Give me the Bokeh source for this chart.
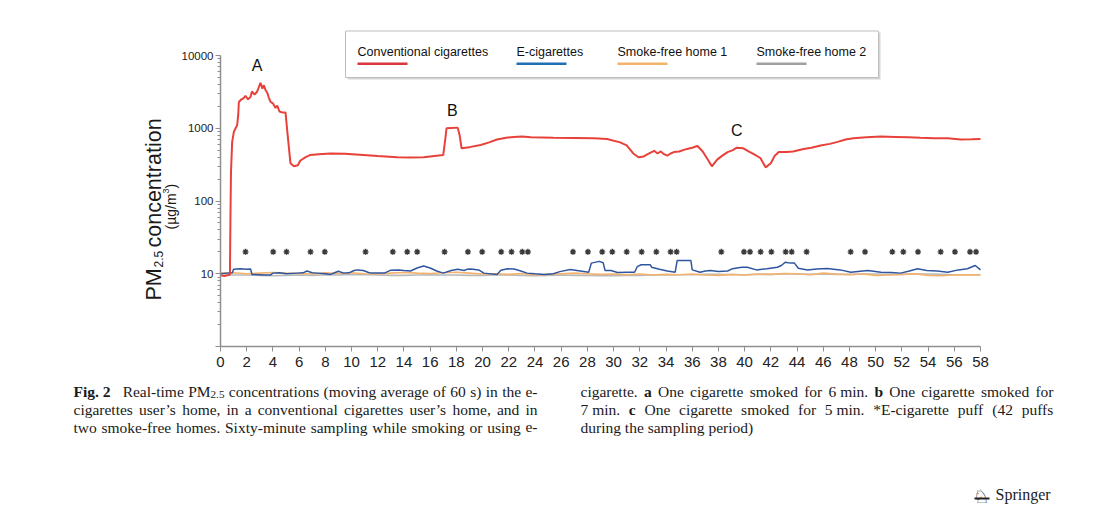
import math
from bokeh.plotting import figure
from bokeh.models import Range1d, FixedTicker, Label, BoxAnnotation
from bokeh.embed import file_html
from bokeh.resources import INLINE

# ---------------- data ----------------
conv = [(0, 9.5), (0.3, 9.3), (0.6, 9.6), (0.72, 9.8), (0.76, 60), (0.8, 250), (0.89, 650),
        (1.02, 890), (1.15, 1000), (1.27, 1100), (1.35, 1500), (1.4, 2300), (1.6, 2500),
        (1.78, 2600), (1.9, 2800), (2.1, 2500), (2.29, 2700), (2.4, 3200), (2.6, 2900),
        (2.8, 3200), (3.05, 4200), (3.2, 3500), (3.31, 3900), (3.45, 3300), (3.56, 3100),
        (3.7, 2600), (3.82, 2300), (4.0, 2200), (4.2, 1900), (4.33, 2050), (4.5, 1700),
        (4.7, 1650), (4.96, 1650), (5.1, 900), (5.34, 330), (5.6, 300), (5.9, 310),
        (6.1, 360), (6.5, 400), (6.87, 430), (7.5, 440), (8.4, 450), (9.5, 445), (10.9, 430),
        (12.0, 415), (13.5, 400), (14.5, 395), (15.5, 400), (16.0, 410), (17.0, 430),
        (17.15, 700), (17.25, 1000), (17.6, 1010), (18.1, 1020), (18.25, 800), (18.4, 530),
        (19.0, 550), (19.85, 590), (20.5, 640), (21.1, 700), (21.8, 740), (22.4, 760),
        (23.0, 770), (23.7, 755), (25.4, 740), (27.0, 735), (28.5, 730), (29.5, 710),
        (30.5, 640), (31.0, 580), (31.5, 450), (31.9, 400), (32.3, 410), (32.6, 440),
        (32.9, 470), (33.1, 490), (33.35, 450), (33.6, 480), (33.85, 440), (34.1, 420),
        (34.35, 450), (34.6, 470), (35.0, 480), (35.6, 520), (36.0, 540), (36.4, 570),
        (36.8, 480), (37.15, 380), (37.5, 300), (37.9, 370), (38.3, 420), (38.7, 470),
        (39.1, 500), (39.4, 540), (39.9, 530), (40.3, 480), (40.7, 440), (41.2, 390),
        (41.6, 290), (42.0, 330), (42.3, 420), (42.6, 470), (43.2, 470), (43.7, 480),
        (44.5, 520), (45.1, 540), (45.8, 580), (46.5, 610), (47.1, 650), (47.7, 700),
        (48.3, 730), (49.3, 750), (50.4, 770), (51.5, 760), (52.5, 750), (53.4, 740),
        (54.5, 730), (55.5, 730), (56.5, 700), (57.3, 705), (58.0, 710)]

ecig = [(0, 10.0), (0.5, 10.2), (0.9, 10.3), (1.0, 11.5), (1.5, 11.7), (2.0, 11.5), (2.3, 11.6),
        (2.4, 9.8), (3.0, 9.7), (3.3, 9.6), (3.8, 9.6), (4.0, 10.2), (4.5, 10.3), (5.0, 10.0),
        (5.85, 10.2), (6.3, 10.3), (6.6, 10.9), (7.0, 10.3), (7.4, 10.2), (8.0, 10.0),
        (8.4, 9.8), (8.8, 10.5), (9.0, 10.8), (9.4, 10.2), (9.8, 10.3), (10.2, 11.1),
        (10.4, 11.3), (10.9, 11.1), (11.3, 10.4), (11.5, 10.2), (12.5, 10.2), (12.8, 10.8),
        (13.0, 11.2), (13.6, 11.3), (14.0, 11.1), (14.5, 10.9), (15.0, 12.0), (15.5, 12.8),
        (16.0, 12.0), (16.5, 10.9), (17.0, 10.2), (17.6, 11.1), (18.1, 11.5), (18.6, 11.1),
        (18.8, 11.5), (19.1, 11.6), (19.7, 11.3), (20.1, 10.2), (21.1, 9.8), (21.4, 11.2),
        (21.9, 11.7), (22.4, 11.6), (22.8, 11.1), (23.4, 10.2), (24.0, 10.0), (24.7, 9.8),
        (25.4, 10.0), (25.9, 10.7), (26.7, 11.4), (27.2, 11.1), (28.1, 10.5), (28.3, 14.0),
        (28.9, 14.8), (29.2, 14.2), (29.35, 11.1), (29.8, 11.1), (30.3, 10.4), (31.0, 10.5),
        (31.6, 10.5), (31.8, 12.5), (32.1, 13.3), (32.8, 13.3), (32.9, 12.3), (33.5, 11.5),
        (34.1, 10.9), (34.7, 10.5), (34.85, 15.2), (35.9, 15.2), (36.0, 11.3), (36.6, 10.5),
        (37.0, 10.9), (37.4, 11.1), (38.0, 10.7), (38.7, 10.9), (39.0, 11.6), (39.4, 12.0),
        (39.8, 12.3), (40.2, 12.3), (40.9, 11.3), (41.7, 11.7), (42.5, 12.3), (42.8, 13.0),
        (43.1, 14.4), (43.5, 14.0), (43.8, 14.0), (44.1, 11.9), (44.8, 11.3), (45.5, 11.6),
        (46.3, 11.8), (47.3, 11.3), (48.1, 10.5), (49.4, 11.1), (50.4, 10.5), (51.2, 10.4),
        (51.9, 10.2), (52.5, 10.8), (53.2, 11.7), (53.9, 11.1), (54.7, 10.9), (55.5, 10.5),
        (56.3, 11.3), (57.0, 11.7), (57.6, 13.0), (58.0, 11.3)]

sf1_t = list(range(0, 59))
sf1_v = [10.2, 10.3, 10.0, 10.2, 10.4, 10.2, 10.1, 9.9, 10.3, 10.1, 10.3, 10.0, 9.9, 10.2,
         10.4, 10.2, 10.1, 10.3, 10.5, 10.2, 9.9, 10.0, 9.8, 10.1, 9.6, 9.8, 10.0, 10.2, 10.0,
         9.8, 9.9, 9.7, 9.9, 9.6, 9.8, 9.7, 9.9, 9.6, 9.5, 9.8, 9.6, 9.9, 9.8, 10.1, 10.0,
         9.7, 10.2, 9.9, 9.7, 9.9, 9.5, 9.6, 9.8, 10.0, 9.5, 9.4, 9.6, 9.7, 9.6]

sf2_t = list(range(0, 59))
sf2_v = [9.5, 9.6, 9.6, 9.5, 9.4, 9.5, 9.6, 9.5, 9.7, 9.6, 9.8, 9.7, 9.6, 9.5, 9.5, 9.6,
         9.7, 9.6, 9.6, 9.5, 9.5, 9.6, 9.6, 9.5, 9.4, 9.5, 9.6, 9.5, 9.5, 9.4, 9.4, 9.5,
         9.5, 9.6, 9.6, 9.7, 9.7, 9.8, 9.8, 9.7, 9.7, 9.8, 9.8, 9.9, 9.9, 9.8, 9.9, 9.8,
         9.8, 9.9, 9.9, 9.8, 9.8, 9.9, 9.9, 9.8, 9.7, 9.7, 9.7]

puff_t = [1.91, 4.02, 5.04, 6.87, 7.96, 11.07, 13.15, 14.25, 15.01, 17.1, 18.88, 19.97,
          21.42, 22.21, 23.03, 23.46, 26.9, 28.04, 29.13, 29.9, 31.0, 32.14, 33.26, 34.35,
          34.81, 38.22, 39.95, 40.41, 41.22, 42.04, 43.13, 43.59, 44.73, 48.09, 49.19,
          51.27, 52.11, 53.23, 54.96, 56.05, 57.2, 57.66]
puff_level = 20

peak_labels = ["A", "B", "C"]
peak_t = [2.8, 17.7, 39.4]
peak_v = [7300, 1760, 935]

x_ticks = list(range(0, 59, 2))
y_ticks = [1, 10, 100, 1000, 10000]
y_tick_labels = ["", "10", "100", "1000", "10000"]

series_names = ["Conventional cigarettes", "E-cigarettes", "Smoke-free home 1", "Smoke-free home 2"]
line_colors = ["#e8413a", "#2f56a0", "#f3b36e", "#b9b9b9"]
legend_colors = ["#d9363e", "#1f6fb5", "#f2b36b", "#a0a0a0"]

caption_left = [
    "!Fig.~2~~ Real-time PM_2.5 concentrations (moving average of 60 s) in the e-",
    "cigarettes user’s home, in a conventional cigarettes user’s home, and in",
    "two smoke-free homes. Sixty-minute sampling while smoking or using e-",
]
caption_right = [
    "cigarette. !a One cigarette smoked for 6~min. !b One cigarette smoked for",
    "7~min. !c One cigarette smoked for 5~min. *E-cigarette puff (42 puffs",
    "during the sampling period)",
]

conv_t, conv_v = [a for a, b in conv], [b for a, b in conv]
ecig_t, ecig_v = [a for a, b in ecig], [b for a, b in ecig]

# ---------------- geometry: the frame fills the whole canvas ----------------
W, H = 1110, 510
X0, X1 = 220.0, 980.0       # pixel positions of t=0 and t=58
Y_TOP, Y_BOT = 55.0, 346.0  # pixel positions of 10000 and 1
kx = (X1 - X0) / 58.0
ky = (Y_BOT - Y_TOP) / 4.0

x_range = Range1d(-X0 / kx, (W - X0) / kx)
y_range = Range1d(10 ** ((Y_BOT - H) / ky), 10 ** (Y_BOT / ky))

p = figure(frame_width=W, frame_height=H, min_border=0,
           x_range=x_range, y_range=y_range, y_axis_type="log",
           output_backend="svg", toolbar_location=None)
p.outline_line_color = None
p.xgrid.visible = False
p.ygrid.visible = False
p.background_fill_color = "white"
p.border_fill_color = "white"

AX = "#8f8f8f"
xa = p.xaxis[0]
xa.fixed_location = 1
xa.bounds = (0, 58)
xa.ticker = FixedTicker(ticks=x_ticks)
xa.axis_line_color = AX
xa.axis_line_width = 1.5
xa.major_tick_line_color = AX
xa.major_tick_out = 5
xa.major_tick_in = 0
xa.minor_tick_line_color = None
xa.major_label_text_font = "'Liberation Sans Narrow', 'Liberation Sans', sans-serif"
xa.major_label_text_font_size = "15px"
xa.major_label_text_color = "#222222"
xa.major_label_standoff = 5

ya = p.yaxis[0]
ya.fixed_location = 0
ya.bounds = (1, 10000)
y_minor = [k * 10 ** d for d in range(4) for k in range(2, 10)]
ya.ticker = FixedTicker(ticks=y_ticks, minor_ticks=y_minor)
ya.major_label_overrides = dict(zip(y_ticks, y_tick_labels))
ya.axis_line_color = AX
ya.axis_line_width = 1.5
ya.major_tick_line_color = AX
ya.major_tick_out = 5
ya.major_tick_in = 0
ya.minor_tick_line_color = AX
ya.minor_tick_out = 3
ya.minor_tick_in = 0
ya.major_label_text_font = "Liberation Sans"
ya.major_label_text_font_size = "11.5px"
ya.major_label_text_color = "#222222"
ya.major_label_standoff = 2

# series
p.line(sf2_t, sf2_v, line_color=line_colors[3], line_width=1.6)
p.line(sf1_t, sf1_v, line_color=line_colors[2], line_width=1.6)
p.line(ecig_t, ecig_v, line_color=line_colors[1], line_width=1.5)
p.line(conv_t, conv_v, line_color=line_colors[0], line_width=2.0)
p.scatter(puff_t, [puff_level] * len(puff_t), marker="asterisk", size=6,
          line_color="#3a3a3a", line_width=1.4)

for lab, t, v in zip(peak_labels, peak_t, peak_v):
    p.add_layout(Label(x=t, y=v, text=lab, text_align="center", text_baseline="middle",
                       text_font="Liberation Sans", text_font_size="16px", text_color="#111111"))


# ---------------- helpers for screen-positioned text ----------------
def put(text, px, py, size, font="Liberation Sans", bold=False, angle=0.0,
        align="left", baseline="alphabetic", color="#1a1a1a"):
    p.add_layout(Label(x=px, y=H - py, x_units="screen", y_units="screen",
                       text=text, text_font=font, text_font_size=f"{size}px",
                       text_font_style="bold" if bold else "normal", angle=angle,
                       text_align=align, text_baseline=baseline, text_color=color))


def box(l, r, t, b, fill, line=None, lw=1.0):
    p.add_layout(BoxAnnotation(left=l, right=r, top=H - t, bottom=H - b,
                               left_units="screen", right_units="screen",
                               top_units="screen", bottom_units="screen",
                               fill_color=fill, fill_alpha=1.0,
                               line_color=line, line_width=lw, line_alpha=1.0))


# y-axis title
R90 = math.pi / 2
put("PM", 153, 300, 21.5, angle=R90)
put("2.5", 158, 267, 12, angle=R90)
put("concentration", 153, 247, 21.5, angle=R90)
put("(µg/m", 170, 229, 14, angle=R90)
put("3", 165, 193, 9, angle=R90)
put(")", 170, 188, 14, angle=R90)

# legend
box(347, 880, 32, 79, "#d6d6d6")
box(345, 878, 30.5, 77, "white", line="#bdbdbd", lw=1)
leg_x = [357, 516, 617, 756]
for name, c, lx in zip(series_names, legend_colors, leg_x):
    put(name, lx, 51, 12.5, baseline="middle", color="#111111")
    box(lx, lx + 50, 62, 64.5, c)

# ---------------- caption (justified, Times metrics) ----------------
TR = dict(zip("abcdefghijklmnopqrstuvwxyz",
              [444, 500, 444, 500, 444, 333, 500, 500, 278, 278, 500, 278, 778, 500, 500, 500,
               500, 333, 389, 278, 500, 500, 722, 500, 500, 444]))
TR.update(zip("ABCDEFGHIJKLMNOPQRSTUVWXYZ",
              [722, 667, 667, 722, 611, 556, 722, 722, 333, 389, 722, 611, 889, 722, 722, 556,
               722, 667, 556, 611, 722, 722, 944, 722, 722, 611]))
TR.update({d: 500 for d in "0123456789"})
TR.update({" ": 250, ".": 250, ",": 250, "-": 333, "(": 333, ")": 333, "’": 333, "*": 500, "/": 278})
TB = dict(TR)
TB.update({"a": 500, "b": 556, "c": 444, "g": 500, "i": 278, "F": 611})

CAP = 15.5
SUB = 0.72


def tw(s, size, bold):
    tab = TB if bold else TR
    return sum(tab.get(ch, 500) for ch in s) * size / 1000


def parse(word):
    bold = word.startswith("!")
    w = word.lstrip("!").replace("~", "\u00a0")
    if "_" in w:
        base, sub = w.split("_")
        return [(base, "b" if bold else "r"), (sub, "s")]
    return [(w, "b" if bold else "r")]


def run_w(run):
    txt, st = run
    txt = txt.replace("\u00a0", " ")
    if st == "s":
        return tw(txt, CAP * SUB, False)
    return tw(txt, CAP, st == "b")


def draw_line(line, x0, x1, py, justify):
    words = [parse(w) for w in line.split(" ")]
    ws = [sum(run_w(r) for r in wd) for wd in words]
    if justify and len(words) > 1:
        gap = (x1 - x0 - sum(ws)) / (len(words) - 1)
    else:
        gap = TR[" "] * CAP / 1000
    x = x0
    for wd, wdw in zip(words, ws):
        xx = x
        for txt, st in wd:
            if st == "s":
                put(txt, xx, py + CAP * 0.2, round(CAP * SUB, 2), font="Liberation Serif")
            else:
                put(txt, xx, py, CAP, font="Liberation Serif", bold=(st == "b"))
            xx += run_w((txt, st))
        x += wdw + gap


base_y = [391, 408.8, 426.6]
for i, ln in enumerate(caption_left):
    draw_line(ln, 73, 537, base_y[i], True)
for i, ln in enumerate(caption_right):
    draw_line(ln, 580, 1053, base_y[i], i < 2)

# publisher mark
put("♘", 972, 495, 19, font="DejaVu Sans", color="#222222")
box(974, 989, 497, 499, "#222222")
put("Springer", 995, 494, 16, font="Liberation Serif", color="#222222")

open("out.html", "w").write(file_html(p, INLINE))
